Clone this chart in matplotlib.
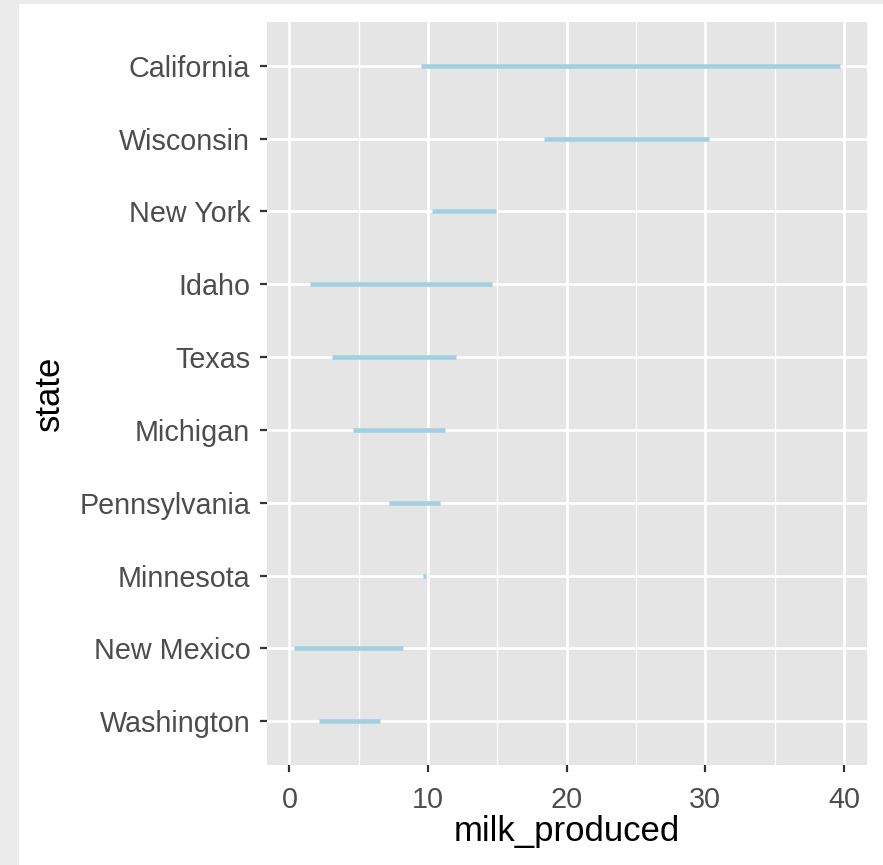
import matplotlib.pyplot as plt
from matplotlib.patches import Rectangle

states = ["Washington", "New Mexico", "Minnesota", "Pennsylvania", "Michigan",
          "Texas", "Idaho", "New York", "Wisconsin", "California"]
start_prod = [2.1, 0.35, 9.62, 7.2, 4.6, 3.1, 1.5, 10.3, 18.4, 9.5]
end_prod = [6.5, 8.2, 9.86, 10.85, 11.25, 12.05, 14.6, 14.9, 30.3, 39.7]

plt.rcParams['font.family'] = ['Liberation Sans', 'DejaVu Sans']

fig = plt.figure(figsize=(8.83, 8.65), dpi=100)
fig.patch.set_facecolor('#ebebeb')
fig.patches.append(Rectangle((19 / 883, 0), 1, 861 / 865, transform=fig.transFigure,
                             facecolor='white', edgecolor='none', zorder=-1))

ax = fig.add_axes([0.3024, 0.1156, 0.6795, 0.859])
ax.set_facecolor('#e5e5e5')

ypos = list(range(len(states)))
ax.hlines(ypos, start_prod, end_prod, color='#a3d0e1', lw=3.3, zorder=3)

lo = min(start_prod)
hi = max(end_prod)
pad = (hi - lo) * 0.05
ax.set_xlim(lo - pad, hi + pad)
ax.set_ylim(-0.6, len(states) - 0.4)

ax.set_xticks([0, 10, 20, 30, 40])
ax.set_xticks([5, 15, 25, 35], minor=True)
ax.set_yticks(ypos)
ax.set_yticklabels(states)

ax.grid(True, which='major', color='white', lw=1.9, zorder=0)
ax.grid(True, which='minor', axis='x', color='white', lw=0.9, zorder=0)
ax.set_axisbelow(True)
for s in ax.spines.values():
    s.set_visible(False)

ax.tick_params(axis='both', which='major', length=5, width=1.6, color='#333333',
               labelcolor='#4d4d4d', labelsize=20.7)
ax.tick_params(axis='y', which='major', pad=7)
ax.tick_params(axis='x', which='major', pad=10)
ax.tick_params(axis='both', which='minor', length=0)

ax.set_xlabel('milk_produced', fontsize=25, color='black', labelpad=1)
ax.set_ylabel('state', fontsize=25, color='black', labelpad=10)

fig.savefig('out.png', dpi=100, facecolor=fig.get_facecolor())
